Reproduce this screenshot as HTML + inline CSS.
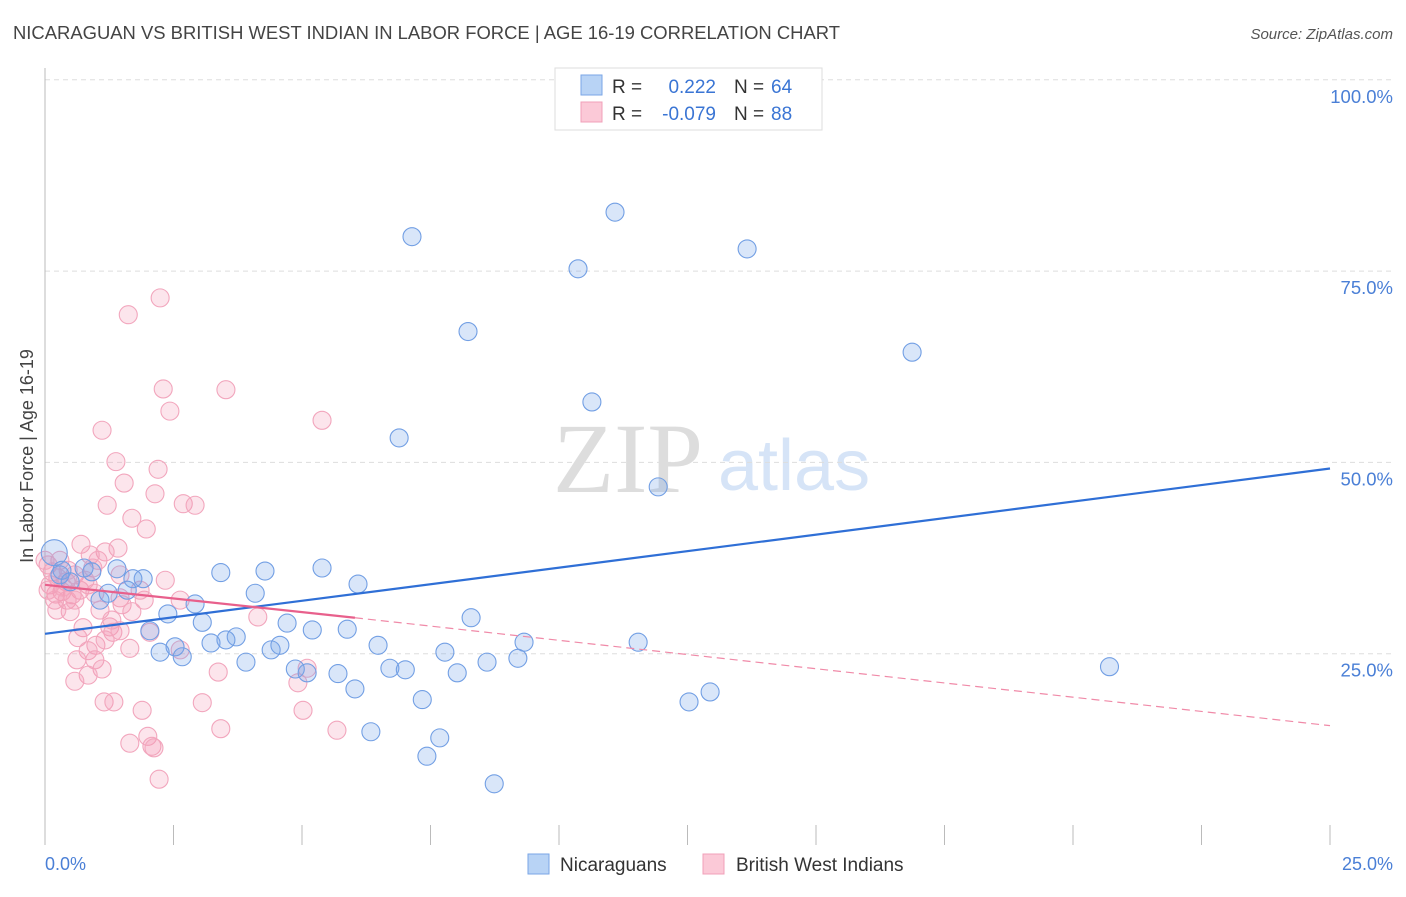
<!DOCTYPE html>
<html><head><meta charset="utf-8"><style>
body{margin:0;background:#fff;width:1406px;height:892px;overflow:hidden;font-family:"Liberation Sans",sans-serif}
</style></head><body>
<svg id="chart" width="1406" height="892" xmlns="http://www.w3.org/2000/svg">
<text x="13" y="39" font-size="18" fill="#444" textLength="827" lengthAdjust="spacingAndGlyphs">NICARAGUAN VS BRITISH WEST INDIAN IN LABOR FORCE | AGE 16-19 CORRELATION CHART</text>
<text x="1393" y="39" font-size="15" fill="#555" font-style="italic" text-anchor="end">Source: ZipAtlas.com</text>
<text x="553" y="492" font-size="100" font-family="Liberation Serif" fill="#ddd">ZIP</text>
<text x="718" y="490" font-size="72" fill="#d6e4f7">atlas</text>
<g id="grid"></g>
<line x1="45" y1="68" x2="45" y2="845" stroke="#bbb"/>
<text transform="translate(33,456) rotate(-90)" font-size="18" fill="#444" text-anchor="middle">In Labor Force | Age 16-19</text>
<text x="45" y="870" font-size="18" fill="#4a7fd6">0.0%</text>
<text x="1393" y="870" font-size="18" fill="#4a7fd6" text-anchor="end">25.0%</text>
<g id="points"></g>
<g id="lines"></g>
<g>
<rect x="555" y="68" width="267" height="62" fill="#fff" stroke="#ddd"/>
<rect x="581" y="75" width="21" height="20" fill="#b8d3f5" stroke="#7aa6e6"/>
<rect x="581" y="102" width="21" height="20" fill="#fbc9d7" stroke="#f0a0b8"/>
<text x="612" y="93" font-size="19" fill="#333">R =</text><text x="716" y="93" font-size="19" fill="#3a75d4" text-anchor="end">0.222</text>
<text x="734" y="93" font-size="19" fill="#333">N =</text><text x="771" y="93" font-size="19" fill="#3a75d4">64</text>
<text x="612" y="120" font-size="19" fill="#333">R =</text><text x="716" y="120" font-size="19" fill="#3a75d4" text-anchor="end">-0.079</text>
<text x="734" y="120" font-size="19" fill="#333">N =</text><text x="771" y="120" font-size="19" fill="#3a75d4">88</text>
</g>
<rect x="528" y="854" width="21" height="20" fill="#b8d3f5" stroke="#7aa6e6"/>
<text x="560" y="871" font-size="19" fill="#333">Nicaraguans</text>
<rect x="703" y="854" width="21" height="20" fill="#fbc9d7" stroke="#f0a0b8"/>
<text x="736" y="871" font-size="19" fill="#333">British West Indians</text>
</svg>
<script>
const yTicks=[100,75,50,25];
const yTickLabels=["100.0%","75.0%","50.0%","25.0%"];
const xTicks=[0,2.5,5,7.5,10,12.5,15,17.5,20,22.5,25];
const blueX=[7.14,11.09,10.37,13.66,8.23,16.87,10.64,6.89,11.93,20.71,12.94,12.53,0.18,1.40,1.91,1.71,0.76,0.91,0.33,3.42,4.28,5.39,6.09,4.09,2.92,2.39,1.60,1.23,1.07,2.04,3.06,3.72,3.52,3.23,2.53,2.67,2.24,3.91,4.40,4.57,4.71,5.20,5.88,6.48,4.87,5.10,5.70,6.03,6.71,7.01,7.78,8.02,8.60,8.29,9.32,9.20,11.54,7.34,6.34,7.68,7.43,8.74,0.29,0.49];
const blueY=[79.5,82.7,75.3,77.9,67.1,64.4,57.9,53.2,46.8,23.3,20.0,18.7,38.2,36.1,34.8,34.8,36.2,35.7,35.9,35.6,35.8,36.2,34.1,32.9,31.5,30.2,33.3,32.9,32.0,28.0,29.1,27.2,26.8,26.4,25.9,24.6,25.2,23.9,25.5,26.1,29.0,28.1,28.2,26.1,23.0,22.5,22.4,20.4,23.1,22.9,25.2,22.5,23.9,29.7,26.5,24.4,26.5,19.0,14.8,14.0,11.6,8.0,35.3,34.4];
const pinkX=[2.24,1.62,2.30,3.52,2.43,5.39,1.11,1.38,2.20,1.54,2.14,2.69,2.92,1.21,1.69,1.97,0.70,1.42,1.17,0.88,1.03,0.29,0.06,0.14,0.25,0.41,0.58,0.84,0.68,0.53,0.33,0.21,0.43,0.97,1.46,1.93,2.34,1.50,1.07,0.49,0.74,1.26,1.32,0.64,0.99,1.65,0.84,0.97,1.11,0.84,0.58,3.37,5.10,4.92,2.04,2.63,4.14,1.15,1.34,1.89,3.06,5.02,3.42,5.68,2.00,1.65,2.08,2.12,2.22,0.00,0.10,0.19,1.46,0.93,0.78,0.45,1.30,0.62,1.85,2.63,1.17,0.35,0.06,0.23,1.69,0.58,1.46];
const pinkY=[71.5,69.3,59.6,59.5,56.7,55.5,54.2,50.1,49.1,47.3,45.9,44.6,44.4,44.4,42.7,41.3,39.3,38.8,38.3,37.9,37.2,37.2,36.6,35.7,34.9,34.4,35.3,34.0,33.3,32.7,33.1,32.8,32.0,32.9,32.3,32.0,34.6,31.4,30.7,30.5,28.4,28.5,27.8,27.1,26.1,25.7,25.4,24.2,23.0,22.2,21.4,22.6,23.1,21.2,27.8,25.5,29.8,18.7,18.7,17.6,18.6,17.6,15.2,15.0,14.2,13.3,12.9,12.7,8.6,37.2,34.0,32.0,35.3,36.2,34.6,35.9,29.4,24.2,33.3,32.0,26.8,33.7,33.3,30.7,30.5,32.0,28.0];
const blueTrend=[[0,27.6],[25,49.2]];
const pinkTrendSolid=[[0,34.0],[6.03,29.7]];
const pinkTrendDashed=[[6.03,29.7],[25,15.6]];
const sx=v=>45+v*51.4;
const sy=v=>845-v*7.652;
const NS="http://www.w3.org/2000/svg";
function mk(tag,attrs,parent){const e=document.createElementNS(NS,tag);for(const k in attrs)e.setAttribute(k,attrs[k]);parent.appendChild(e);return e;}
const grid=document.getElementById('grid');
yTicks.forEach((t,i)=>{
 const l=mk('line',{x1:45,x2:1393,y1:sy(t),y2:sy(t),stroke:'#ddd','stroke-dasharray':'5,4'},grid);
 
 
 const tx=mk('text',{x:1393,y:sy(t)+23,'font-size':18.5,fill:'#4a7fd6','text-anchor':'end'},grid);
 tx.textContent=yTickLabels[i];
 
 
});
xTicks.forEach(t=>{
 const l=mk('line',{x1:sx(t),x2:sx(t),y1:825,y2:845,stroke:'#bbb'},grid);
 
 
});
const pts=document.getElementById('points');
pinkX.forEach((x,i)=>{
 const c=mk('circle',{cx:sx(x),cy:sy(pinkY[i]),r:9,fill:'rgba(244,150,178,0.25)',stroke:'#f2a6bd','stroke-width':1.1},pts);
 
 
});
blueX.forEach((x,i)=>{
 const c=mk('circle',{cx:sx(x),cy:sy(blueY[i]),r:i===12?13:9,fill:'rgba(120,165,235,0.28)',stroke:'#729fe4','stroke-width':1.1},pts);
 
 
});
const ln=document.getElementById('lines');
const b=mk('line',{x1:sx(blueTrend[0][0]),y1:sy(blueTrend[0][1]),x2:sx(blueTrend[1][0]),y2:sy(blueTrend[1][1]),stroke:'#2f6fd6','stroke-width':2.2},ln);


const p1=mk('line',{x1:sx(pinkTrendSolid[0][0]),y1:sy(pinkTrendSolid[0][1]),x2:sx(pinkTrendSolid[1][0]),y2:sy(pinkTrendSolid[1][1]),stroke:'#e8608c','stroke-width':2.2},ln);


const p2=mk('line',{x1:sx(pinkTrendDashed[0][0]),y1:sy(pinkTrendDashed[0][1]),x2:sx(pinkTrendDashed[1][0]),y2:sy(pinkTrendDashed[1][1]),stroke:'#f08aa8','stroke-width':1.2,'stroke-dasharray':'8,5'},ln);


</script>
</body></html>
